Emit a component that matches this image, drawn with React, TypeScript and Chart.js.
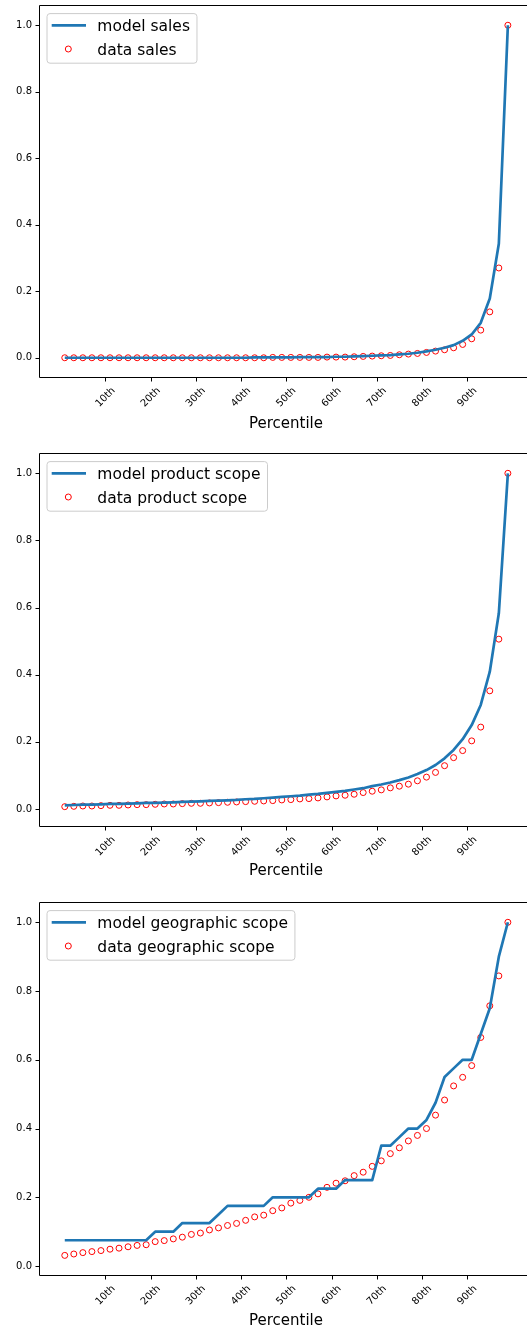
import React, { useEffect, useRef } from 'react';
import { Chart, registerables } from 'chart.js';

Chart.register(...registerables);

// ---------- data ----------
const percentiles = [1, 3, 5, 7, 9, 11, 13, 15, 17, 19, 21, 23, 25, 27, 29, 31, 33, 35, 37, 39, 41, 43, 45, 47, 49, 51, 53, 55, 57, 59, 61, 63, 65, 67, 69, 71, 73, 75, 77, 79, 81, 83, 85, 87, 89, 91, 93, 95, 97, 99];

const xTickValues = [10, 20, 30, 40, 50, 60, 70, 80, 90];
const xTickLabels = ['10th', '20th', '30th', '40th', '50th', '60th', '70th', '80th', '90th'];
const yTickValues = [0, 0.2, 0.4, 0.6, 0.8, 1.0];
const yTickLabels = ['0.0', '0.2', '0.4', '0.6', '0.8', '1.0'];
const xAxisLabel = 'Percentile';

const salesModel = [0, 0, 0, 0, 0, 0, 0, 0, 0, 0, 0, 0, 0, 0, 0, 0, 0, 0, 0, 0, 0, 0.001, 0.001, 0.001, 0.001, 0.001, 0.002, 0.002, 0.002, 0.002, 0.003, 0.003, 0.004, 0.005, 0.006, 0.007, 0.008, 0.010, 0.012, 0.015, 0.019, 0.024, 0.030, 0.038, 0.051, 0.070, 0.105, 0.178, 0.343, 1.0];
const salesData = [0, 0, 0, 0, 0, 0, 0, 0, 0, 0, 0, 0, 0, 0, 0, 0, 0, 0, 0, 0, 0, 0, 0, 0.001, 0.001, 0.001, 0.001, 0.001, 0.001, 0.002, 0.002, 0.002, 0.003, 0.004, 0.005, 0.006, 0.007, 0.009, 0.011, 0.013, 0.016, 0.020, 0.024, 0.030, 0.040, 0.057, 0.083, 0.138, 0.270, 1.0];

const productModel = [0.011, 0.012, 0.013, 0.013, 0.014, 0.015, 0.015, 0.016, 0.017, 0.018, 0.018, 0.019, 0.020, 0.021, 0.022, 0.023, 0.024, 0.025, 0.026, 0.027, 0.029, 0.030, 0.032, 0.034, 0.036, 0.038, 0.040, 0.043, 0.045, 0.048, 0.051, 0.054, 0.058, 0.062, 0.068, 0.073, 0.079, 0.086, 0.094, 0.104, 0.116, 0.131, 0.151, 0.176, 0.208, 0.250, 0.310, 0.409, 0.583, 1.0];
const productData = [0.007, 0.008, 0.009, 0.009, 0.010, 0.011, 0.011, 0.012, 0.013, 0.013, 0.014, 0.015, 0.015, 0.016, 0.017, 0.017, 0.018, 0.019, 0.020, 0.021, 0.022, 0.023, 0.024, 0.025, 0.027, 0.028, 0.030, 0.031, 0.033, 0.036, 0.039, 0.041, 0.044, 0.049, 0.053, 0.057, 0.063, 0.068, 0.074, 0.084, 0.095, 0.109, 0.129, 0.153, 0.174, 0.203, 0.244, 0.352, 0.506, 1.0];

const geoModel = [0.075, 0.075, 0.075, 0.075, 0.075, 0.075, 0.075, 0.075, 0.075, 0.075, 0.1, 0.1, 0.1, 0.125, 0.125, 0.125, 0.125, 0.15, 0.175, 0.175, 0.175, 0.175, 0.175, 0.2, 0.2, 0.2, 0.2, 0.2, 0.225, 0.225, 0.225, 0.25, 0.25, 0.25, 0.25, 0.35, 0.35, 0.375, 0.4, 0.4, 0.425, 0.475, 0.55, 0.575, 0.6, 0.6, 0.675, 0.75, 0.9, 1.0];
const geoData = [0.031, 0.035, 0.039, 0.042, 0.045, 0.049, 0.052, 0.056, 0.060, 0.062, 0.071, 0.074, 0.079, 0.084, 0.092, 0.096, 0.105, 0.111, 0.118, 0.124, 0.133, 0.143, 0.148, 0.161, 0.169, 0.183, 0.191, 0.200, 0.210, 0.229, 0.241, 0.248, 0.263, 0.273, 0.290, 0.306, 0.327, 0.344, 0.364, 0.380, 0.400, 0.439, 0.483, 0.524, 0.549, 0.583, 0.665, 0.757, 0.844, 1.0];

// ---------- panel configuration (layout only) ----------
type PanelCfg = {
  top: number;
  height: number;
  padTop: number;
  xAxisH: number;
  yMin: number;
  yMax: number;
  model: number[];
  data: number[];
  modelLabel: string;
  dataLabel: string;
  xlabelOffset: number;
};

const CANVAS_W = 540;
const FONT = "'DejaVu Sans', sans-serif";
const BLUE = '#1f77b4';

const panels: PanelCfg[] = [
  { top: 0, height: 440, padTop: 4, xAxisH: 62, yMin: -0.0609, yMax: 1.0609, model: salesModel, data: salesData, modelLabel: 'model sales', dataLabel: 'data sales', xlabelOffset: 50 },
  { top: 440, height: 450, padTop: 13, xAxisH: 63, yMin: -0.0536, yMax: 1.0605, model: productModel, data: productData, modelLabel: 'model product scope', dataLabel: 'data product scope', xlabelOffset: 48 },
  { top: 890, height: 439, padTop: 12, xAxisH: 53, yMin: -0.029, yMax: 1.059, model: geoModel, data: geoData, modelLabel: 'model geographic scope', dataLabel: 'data geographic scope', xlabelOffset: 49 },
];

function makePlugin(cfg: PanelCfg) {
  return {
    id: 'panelDecor',
    afterDraw(chart: any) {
      const ctx: CanvasRenderingContext2D = chart.ctx;
      const a = chart.chartArea;
      const xs = chart.scales.x;
      const ys = chart.scales.y;
      ctx.save();
      // frame
      ctx.strokeStyle = '#000';
      ctx.lineWidth = 1;
      ctx.beginPath();
      ctx.moveTo(a.left + 0.5, a.top + 0.5);
      ctx.lineTo(a.right - 0.5, a.top + 0.5);
      ctx.lineTo(a.right - 0.5, a.bottom - 0.5);
      ctx.lineTo(a.left + 0.5, a.bottom - 0.5);
      ctx.closePath();
      ctx.stroke();
      // y tick marks
      ctx.beginPath();
      yTickValues.forEach((v) => {
        const py = Math.round(ys.getPixelForValue(v)) + 0.5;
        ctx.moveTo(a.left - 3.5, py);
        ctx.lineTo(a.left, py);
      });
      // x tick marks
      xTickValues.forEach((v) => {
        const px = Math.round(xs.getPixelForValue(v)) + 0.5;
        ctx.moveTo(px, a.bottom);
        ctx.lineTo(px, a.bottom + 3.5);
      });
      ctx.stroke();
      // y tick labels
      ctx.fillStyle = '#000';
      ctx.font = `10px ${FONT}`;
      ctx.textAlign = 'right';
      ctx.textBaseline = 'middle';
      yTickValues.forEach((v, i) => {
        ctx.fillText(yTickLabels[i], a.left - 7, ys.getPixelForValue(v));
      });
      // x tick labels rotated 45deg, centered
      ctx.textAlign = 'center';
      ctx.textBaseline = 'middle';
      xTickValues.forEach((v, i) => {
        const label = xTickLabels[i];
        const w = ctx.measureText(label).width;
        const h = 11.6;
        const half = ((w + h) * Math.SQRT1_2) / 2;
        const px = xs.getPixelForValue(v);
        const py = a.bottom + 7 + half;
        ctx.save();
        ctx.translate(px, py);
        ctx.rotate(-Math.PI / 4);
        ctx.fillText(label, 0, 0);
        ctx.restore();
      });
      // x axis title
      ctx.font = `15px ${FONT}`;
      ctx.textAlign = 'center';
      ctx.textBaseline = 'alphabetic';
      ctx.fillText(xAxisLabel, (a.left + a.right) / 2 - 1, a.bottom + cfg.xlabelOffset);
      // legend
      ctx.font = `15.5px ${FONT}`;
      const maxW = Math.max(ctx.measureText(cfg.modelLabel).width, ctx.measureText(cfg.dataLabel).width);
      const bx = a.left + 8;
      const by = a.top + 8.6;
      const bw = 50.3 + maxW + 7;
      const bh = 49.6;
      ctx.beginPath();
      const r = 3;
      ctx.moveTo(bx + r, by);
      ctx.lineTo(bx + bw - r, by);
      ctx.quadraticCurveTo(bx + bw, by, bx + bw, by + r);
      ctx.lineTo(bx + bw, by + bh - r);
      ctx.quadraticCurveTo(bx + bw, by + bh, bx + bw - r, by + bh);
      ctx.lineTo(bx + r, by + bh);
      ctx.quadraticCurveTo(bx, by + bh, bx, by + bh - r);
      ctx.lineTo(bx, by + r);
      ctx.quadraticCurveTo(bx, by, bx + r, by);
      ctx.closePath();
      ctx.fillStyle = 'rgba(255,255,255,0.8)';
      ctx.fill();
      ctx.strokeStyle = '#cccccc';
      ctx.lineWidth = 1;
      ctx.stroke();
      const r1 = by + 11.7;
      const r2 = by + 35.4;
      ctx.strokeStyle = BLUE;
      ctx.lineWidth = 2.7;
      ctx.beginPath();
      ctx.moveTo(bx + 4.7, r1);
      ctx.lineTo(bx + 39, r1);
      ctx.stroke();
      ctx.strokeStyle = 'red';
      ctx.lineWidth = 1;
      ctx.beginPath();
      ctx.arc(bx + 21.3, r2, 3, 0, Math.PI * 2);
      ctx.stroke();
      ctx.fillStyle = '#000';
      ctx.textAlign = 'left';
      ctx.textBaseline = 'alphabetic';
      ctx.fillText(cfg.modelLabel, bx + 50.3, r1 + 6);
      ctx.fillText(cfg.dataLabel, bx + 50.3, r2 + 5.6);
      ctx.restore();
    },
  };
}

function Panel({ cfg }: { cfg: PanelCfg }) {
  const ref = useRef<HTMLCanvasElement | null>(null);
  useEffect(() => {
    const canvas = ref.current;
    if (!canvas) return;
    const chart = new Chart(canvas, {
      type: 'scatter',
      data: {
        datasets: [
          {
            type: 'line',
            label: cfg.modelLabel,
            data: percentiles.map((x, i) => ({ x, y: cfg.model[i] })),
            borderColor: BLUE,
            backgroundColor: BLUE,
            borderWidth: 2.7,
            pointRadius: 0,
            fill: false,
            tension: 0,
            borderJoinStyle: 'round',
            borderCapStyle: 'butt',
          } as any,
          {
            type: 'scatter',
            label: cfg.dataLabel,
            data: percentiles.map((x, i) => ({ x, y: cfg.data[i] })),
            pointStyle: 'circle',
            pointRadius: 3,
            borderColor: 'red',
            backgroundColor: 'rgba(0,0,0,0)',
            borderWidth: 1,
          } as any,
        ],
      },
      options: {
        animation: false,
        responsive: false,
        maintainAspectRatio: false,
        devicePixelRatio: 1,
        events: [],
        layout: { padding: { top: cfg.padTop, right: 2, left: 0, bottom: 0 } },
        plugins: {
          legend: { display: false },
          tooltip: { enabled: false },
          title: { display: false },
        },
        scales: {
          x: {
            type: 'linear',
            min: -4.7,
            max: 105,
            grid: { display: false },
            border: { display: false },
            ticks: { display: false },
            afterBuildTicks: (s: any) => {
              s.ticks = xTickValues.map((v) => ({ value: v }));
            },
            afterFit: (s: any) => {
              s.height = cfg.xAxisH;
            },
          },
          y: {
            type: 'linear',
            min: cfg.yMin,
            max: cfg.yMax,
            grid: { display: false },
            border: { display: false },
            ticks: { display: false },
            afterBuildTicks: (s: any) => {
              s.ticks = yTickValues.map((v) => ({ value: v }));
            },
            afterFit: (s: any) => {
              s.width = 39;
            },
          },
        },
      } as any,
      plugins: [makePlugin(cfg)],
    });
    return () => chart.destroy();
  }, [cfg]);
  return (
    <div style={{ position: 'absolute', left: 0, top: cfg.top, width: CANVAS_W, height: cfg.height }}>
      <canvas
        ref={ref}
        width={CANVAS_W}
        height={cfg.height}
        style={{ width: CANVAS_W, height: cfg.height, display: 'block' }}
      />
    </div>
  );
}

export default function App() {
  return (
    <div
      style={{
        position: 'absolute',
        left: 0,
        top: 0,
        width: 527,
        height: 1329,
        overflow: 'hidden',
        background: '#fff',
      }}
    >
      {panels.map((p, i) => (
        <Panel key={i} cfg={p} />
      ))}
    </div>
  );
}
